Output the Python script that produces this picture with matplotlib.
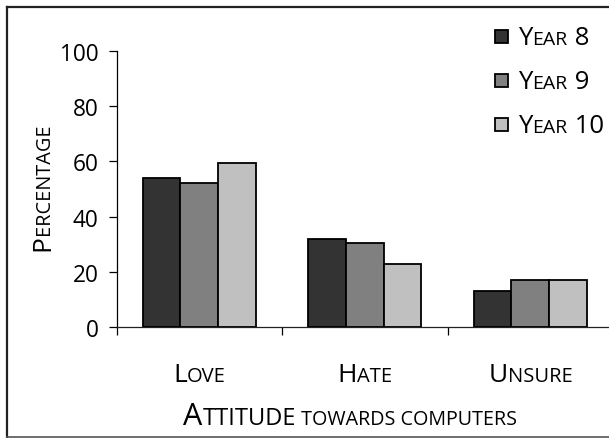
import matplotlib
matplotlib.use("Agg")
import matplotlib.pyplot as plt
import numpy as np
from matplotlib.transforms import IdentityTransform
from matplotlib.patches import Rectangle
from matplotlib.lines import Line2D

plt.rcParams['font.family'] = ['Open Sans', 'DejaVu Sans']

# attitude survey results (percent of each year group)
categories = ['Love', 'Hate', 'Unsure']
years = ['8', '9', '10']
year8 = [54, 32, 13]
year9 = [52, 30.5, 17]
year10 = [59.5, 23, 17]
yticks = [0, 20, 40, 60, 80, 100]

colors = ['#333333', '#808080', '#c0c0c0']

W, H = 609, 439
fig = plt.figure(figsize=(W / 100, H / 100), dpi=100)
ax = fig.add_axes([116.5 / W, 111 / H, 496.5 / W, 276 / H])

x = np.arange(len(categories))
bw = 0.227
for k, vals in enumerate([year8, year9, year10]):
    ax.bar(x + (k - 1) * bw, vals, bw, color=colors[k], edgecolor='black',
           linewidth=1.3, zorder=3)

ax.set_xlim(-0.5, 2.5)
ax.set_ylim(0, 100)
ax.set_yticks(yticks)
ax.set_xticks([-0.5, 0.5, 1.5, 2.5])
ax.set_xticklabels([])
ax.tick_params(axis='y', direction='out', length=5.8, width=0.9,
               labelsize=16.3, pad=7)
ax.tick_params(axis='x', direction='out', length=5.8, width=0.9)
for side in ['top', 'right']:
    ax.spines[side].set_visible(False)
ax.spines['left'].set_linewidth(0.9)
ax.spines['bottom'].set_linewidth(0.9)
ax.spines['bottom'].set_color('#222222')

renderer = fig.canvas.get_renderer()


def caps_text(pieces, px, py, ha='left', rotation=0):
    """Write small-caps style text from (text, size) pieces at pixel coords."""
    texts = []
    lengths = []
    for s, size in pieces:
        t = fig.text(0, 0, s, fontsize=size, transform=IdentityTransform(),
                     ha='left', va='baseline', rotation=rotation,
                     rotation_mode='anchor', color='black')
        bb = t.get_window_extent(renderer)
        texts.append(t)
        lengths.append(bb.height if rotation == 90 else bb.width)
    total = sum(lengths)
    pos = -total / 2 if ha == 'center' else 0
    for t, l in zip(texts, lengths):
        if rotation == 90:
            t.set_position((px, py + pos))
        else:
            t.set_position((px + pos, py))
        pos += l


# category labels under each group
for i, name in enumerate(categories):
    cx = ax.transData.transform((i, 0))[0]
    caps_text([(name[0], 19), (name[1:].upper(), 14.5)], cx, H - 382.3,
              ha='center')

# axis titles
caps_text([('A', 22), ('TTITUDE', 17), (' TOWARDS COMPUTERS', 14.2)],
          350, H - 425, ha='center')
caps_text([('P', 19), ('ERCENTAGE', 14.3)], 49, H - 187, ha='center',
          rotation=90)

# legend
for k, yr in enumerate(years):
    base = 45.5 + k * 44
    fig.patches.append(Rectangle((495, H - base + 2), 13, 13,
                                 transform=IdentityTransform(),
                                 facecolor=colors[k], edgecolor='black',
                                 linewidth=1.3))
    caps_text([('Y', 18.5), ('EAR', 14), (' ' + yr, 18.5)], 518, H - base)

# frame around the chart
frame = dict(color='#222222', linewidth=1.6, transform=IdentityTransform())
fig.lines.append(Line2D([7, 7], [H - 7.5, H - 438], **frame))
fig.lines.append(Line2D([7, W + 5], [H - 7.5, H - 7.5], **frame))
fig.lines.append(Line2D([7, W + 5], [H - 438, H - 438], color='#555555',
                        linewidth=1.2, transform=IdentityTransform()))

fig.savefig('out.png', dpi=100)
